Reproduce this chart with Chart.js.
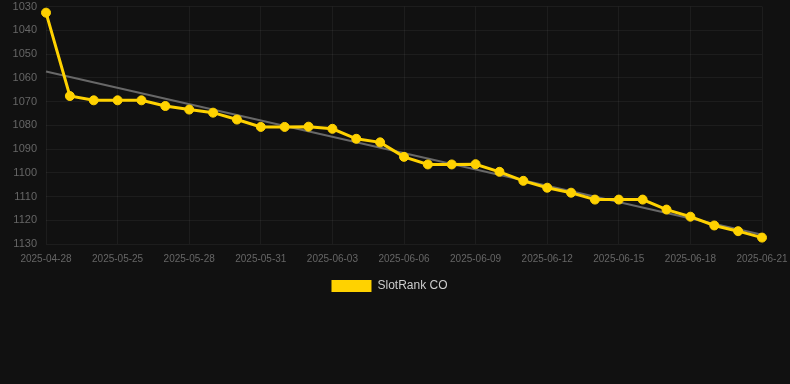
<!DOCTYPE html>
<html>
<head>
<meta charset="utf-8">
<script src="https://cdn.jsdelivr.net/npm/chart.js@4"></script>
<style>
html,body{margin:0;padding:0;background:#111111;overflow:hidden;}
#wrap{width:790px;height:302px;position:relative;}
</style>
</head>
<body>
<div id="wrap"><canvas id="c"></canvas></div>
<script>
const categories = ["2025-04-28","2025-05-23","2025-05-24","2025-05-25","2025-05-26","2025-05-27","2025-05-28","2025-05-29","2025-05-30","2025-05-31","2025-06-01","2025-06-02","2025-06-03","2025-06-04","2025-06-05","2025-06-06","2025-06-07","2025-06-08","2025-06-09","2025-06-10","2025-06-11","2025-06-12","2025-06-13","2025-06-14","2025-06-15","2025-06-16","2025-06-17","2025-06-18","2025-06-19","2025-06-20","2025-06-21"];
const rankValues = [1032.6,1067.7,1069.5,1069.5,1069.5,1071.9,1073.4,1074.7,1077.6,1080.7,1080.7,1080.6,1081.5,1085.7,1087.2,1093.3,1096.5,1096.5,1096.4,1099.6,1103.4,1106.3,1108.4,1111.3,1111.3,1111.3,1115.5,1118.5,1122.2,1124.6,1127.3];
const trendStart = 1057.4;
const trendEnd = 1126.1;
const yTicks = [1030,1040,1050,1060,1070,1080,1090,1100,1110,1120,1130];

const trendData = categories.map((c,i)=> i===0 ? trendStart : (i===categories.length-1 ? trendEnd : null));

new Chart(document.getElementById('c'), {
  type: 'line',
  data: {
    labels: categories,
    datasets: [
      {
        label: 'SlotRank CO',
        data: rankValues,
        borderColor: '#FFD200',
        backgroundColor: '#FFD200',
        borderWidth: 3,
        pointRadius: 4.5,
        pointHoverRadius: 4.5,
        pointBorderWidth: 1,
        pointBackgroundColor: '#FFD200',
        pointBorderColor: '#FFD200',
        tension: 0,
        order: 1
      },
      {
        label: 'trend',
        data: trendData,
        spanGaps: true,
        borderColor: '#686868',
        borderWidth: 2,
        pointRadius: 0,
        fill: false,
        tension: 0,
        order: 2
      }
    ]
  },
  options: {
    responsive: true,
    maintainAspectRatio: false,
    animation: false,
    layout: {autoPadding: false, padding: {left: 0, right: 11, top: 0, bottom: 0}},
    plugins: {
      legend: {
        position: 'bottom',
        labels: {
          color: '#cccccc',
          font: {family: 'Liberation Sans, Arial, sans-serif', size: 12},
          boxWidth: 40,
          padding: 6,
          filter: (item) => item.text !== 'trend',
          generateLabels: (chart) => {
            const items = Chart.defaults.plugins.legend.labels.generateLabels(chart);
            items.forEach(it => { it.lineWidth = 0; });
            return items;
          }
        }
      },
      tooltip: {enabled: false}
    },
    scales: {
      x: {
        grid: {color: 'rgba(255,255,255,0.05)', drawTicks: false},
        border: {display: false},
        afterFit: (scale) => { scale.paddingRight = 28; },
        ticks: {
          color: '#666666',
          font: {family: 'Liberation Sans, Arial, sans-serif', size: 10},
          maxRotation: 0,
          autoSkip: false,
          padding: 9,
          callback: function(v, i) { return i % 3 === 0 ? categories[i] : null; }
        }
      },
      y: {
        reverse: true,
        min: yTicks[0],
        max: yTicks[yTicks.length-1],
        grid: {color: 'rgba(255,255,255,0.05)', drawTicks: false},
        border: {display: false},
        afterBuildTicks: (axis) => { axis.ticks = yTicks.map(v => ({value: v})); },
        afterFit: (scale) => { scale.paddingTop = 6.5; scale.paddingBottom = 0; scale.width = 46; },
        ticks: {
          color: '#666666',
          font: {family: 'Liberation Sans, Arial, sans-serif', size: 11},
          padding: 9,
          callback: (v) => String(v)
        }
      }
    }
  }
});
</script>
</body>
</html>
